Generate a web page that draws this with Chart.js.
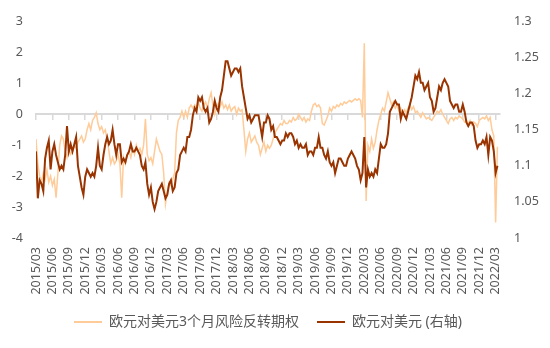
<!DOCTYPE html>
<html>
<head>
<meta charset="utf-8">
<script src="https://cdn.jsdelivr.net/npm/chart.js@4"></script>
<style>
  body { margin: 0; background: #fff; }
  #wrap { width: 550px; height: 348px; }
</style>
</head>
<body>
<div id="wrap"><canvas id="chart" width="550" height="348"></canvas></div>
<script>
// quarterly tick labels on the date axis
const tickLabels = [
	"2015/03", "2015/06", "2015/09", "2015/12", "2016/03", "2016/06", "2016/09", "2016/12",
	"2017/03", "2017/06", "2017/09", "2017/12", "2018/03", "2018/06", "2018/09", "2018/12",
	"2019/03", "2019/06", "2019/09", "2019/12", "2020/03", "2020/06", "2020/09", "2020/12",
	"2021/03", "2021/06", "2021/09", "2021/12", "2022/03",
];

// three readings per month, starting 2015/03
const stepsPerMonth = 3;

// EUR/USD 3M 25D risk reversal (left axis)
const rr = [
	-0.8, -1.6, -2.0, -2.2, -1.9, -2.1, -1.8, -2.2, -2.0, -2.3, -2.1, -2.7, -1.9, -1.0, -0.7, -0.8, -1.2, -1.4, -1.1, -1.3, -1.2, -1.0, -1.1, -0.9, -0.8, -0.7, -0.9, -0.8, -0.5, -0.3,
	-0.5, -0.2, -0.1, 0.05, -0.3, -0.5, -0.4, -0.6, -0.5, -0.8, -1.2, -1.6, -1.4, -1.6, -1.5, -1.3, -1.6, -2.7, -1.4, -1.6, -1.3, -1.2, -1.4, -1.1, -1.3, -1.0, -1.2, -1.1, -1.3, -1.0, -0.15, -1.3, -1.5, -1.4, -1.6, -1.2,
	-0.8, -1.0, -1.2, -1.3, -1.9, -2.9, -2.5, -2.2, -2.3, -2.1, -1.9, -0.6, -0.2, -0.1, 0.1, -0.1, 0.1, -0.1, 0.2, 0.3, 0.2, 0.3, 0.15, 0.4, 0.2, 0.1, 0.3, 0.4, 0.2, 0.5, 0.7, 0.3, 0.0, 0.2, 0.35, 0.25,
	0.4, 0.2, 0.3, 0.15, 0.3, 0.1, 0.2, 0.25, 0.0, 0.2, 0.1, 0.15, -0.5, -1.2, -0.8, -0.6, -0.9, -0.8, -0.7, -0.9, -1.0, -1.3, -1.1, -0.9, -1.2, -1.0, -1.1, -1.0, -0.8, -0.6, -0.5, -0.4, -0.3, -0.35, -0.2, -0.3,
	-0.3, -0.2, -0.25, -0.1, -0.2, -0.15, 0.0, -0.1, -0.2, -0.1, -0.25, -0.15, -0.2, 0.1, 0.3, 0.35, 0.25, 0.3, 0.2, -0.3, -0.35, -0.2, -0.05, 0.2, 0.1, 0.25, 0.2, 0.3, 0.25, 0.35, 0.3, 0.4, 0.35, 0.4, 0.45, 0.4,
	0.45, 0.5, 0.45, 0.5, 0.45, -0.1, 2.3, -2.8, -1.0, -1.2, -0.8, -1.1, -0.9, -0.5, -0.2, 0.0, 0.2, 0.1, 0.4, 0.7, 0.5, 0.3, 0.4, 0.2, 0.3, 0.1, 0.2, 0.0, 0.15, 0.05, 0.2, 0.3, 0.15, 0.25, 0.05, 0.1,
	0.0, -0.1, 0.05, -0.05, -0.15, -0.1, -0.15, -0.2, -0.1, 0.0, 0.1, 0.05, 0.15, 0.0, -0.1, -0.2, -0.3, -0.15, -0.1, -0.2, -0.1, -0.15, -0.05, -0.1, -0.15, -0.25, -0.2, -0.3, -0.2, -0.35, -0.25, -0.3, -0.4, -0.2, -0.15, -0.1,
	-0.15, -0.05, -0.2, -0.1, -0.5, -0.7, -3.5, -1.05,
];

// EUR/USD spot (right axis)
const eurusd = [
	1.12, 1.055, 1.08, 1.075, 1.065, 1.11, 1.125, 1.135, 1.095, 1.12, 1.13, 1.115, 1.105, 1.095, 1.10, 1.095, 1.115, 1.155, 1.12, 1.13, 1.12, 1.13, 1.14, 1.10, 1.085, 1.07, 1.06, 1.085, 1.095, 1.09,
	1.085, 1.09, 1.085, 1.10, 1.125, 1.10, 1.095, 1.115, 1.13, 1.14, 1.13, 1.135, 1.15, 1.13, 1.115, 1.13, 1.13, 1.105, 1.11, 1.105, 1.115, 1.12, 1.13, 1.12, 1.12, 1.125, 1.12, 1.115, 1.10, 1.095, 1.105, 1.075, 1.06, 1.07, 1.05, 1.04,
	1.05, 1.065, 1.07, 1.075, 1.065, 1.055, 1.06, 1.075, 1.08, 1.065, 1.07, 1.09, 1.095, 1.115, 1.12, 1.125, 1.12, 1.14, 1.14, 1.15, 1.17, 1.18, 1.175, 1.195, 1.19, 1.195, 1.18, 1.175, 1.18, 1.16, 1.165, 1.175, 1.19, 1.18, 1.175, 1.195,
	1.205, 1.225, 1.245, 1.245, 1.235, 1.225, 1.23, 1.235, 1.235, 1.23, 1.235, 1.21, 1.195, 1.18, 1.165, 1.17, 1.16, 1.165, 1.17, 1.17, 1.17, 1.155, 1.14, 1.16, 1.16, 1.17, 1.165, 1.15, 1.155, 1.14, 1.14, 1.135, 1.13, 1.135, 1.135, 1.145,
	1.14, 1.145, 1.145, 1.14, 1.13, 1.135, 1.125, 1.13, 1.125, 1.125, 1.13, 1.115, 1.12, 1.12, 1.115, 1.125, 1.125, 1.14, 1.125, 1.125, 1.115, 1.11, 1.12, 1.105, 1.10, 1.105, 1.09, 1.10, 1.11, 1.11, 1.105, 1.10, 1.10, 1.11, 1.115, 1.12,
	1.115, 1.11, 1.10, 1.095, 1.08, 1.09, 1.14, 1.07, 1.095, 1.085, 1.09, 1.085, 1.095, 1.09, 1.11, 1.13, 1.125, 1.125, 1.13, 1.145, 1.175, 1.18, 1.185, 1.19, 1.185, 1.185, 1.165, 1.175, 1.17, 1.165, 1.175, 1.185, 1.195, 1.21, 1.225, 1.22,
	1.23, 1.215, 1.215, 1.205, 1.21, 1.215, 1.195, 1.19, 1.175, 1.18, 1.195, 1.21, 1.205, 1.215, 1.22, 1.215, 1.21, 1.19, 1.185, 1.18, 1.185, 1.185, 1.175, 1.175, 1.185, 1.175, 1.16, 1.155, 1.16, 1.16, 1.155, 1.135, 1.125, 1.13, 1.13, 1.135,
	1.13, 1.14, 1.115, 1.14, 1.135, 1.12, 1.09, 1.10,
];

const toPoints = (arr) => arr.map((v, i) => ({ x: i / stepsPerMonth, y: v }));
const xMax = 84.8;
const grey = "#595959";
const fontFamily = '"Noto Sans", "Noto Sans CJK SC", sans-serif';

const ctx = document.getElementById("chart").getContext("2d");

const config = {
	type: "line",
	data: {
		datasets: [
			{
				label: "欧元对美元3个月风险反转期权",
				data: toPoints(rr),
				yAxisID: "y",
				borderColor: "#FFCB98",
				backgroundColor: "#FFCB98",
				borderWidth: 1.5,
				pointRadius: 0,
				tension: 0,
				order: 2,
			},
			{
				label: "欧元对美元 (右轴)",
				data: toPoints(eurusd),
				yAxisID: "y2",
				borderColor: "#993300",
				backgroundColor: "#993300",
				borderWidth: 2,
				pointRadius: 0,
				tension: 0,
				order: 1,
			},
		],
	},
	options: {
		responsive: false,
		animation: false,
		layout: { padding: { top: 17, bottom: 9, left: 0, right: 0 } },
		scales: {
			x: {
				type: "linear",
				position: "bottom",
				min: 0,
				max: xMax,
				grid: { display: false, drawTicks: false },
				border: { display: false },
				ticks: {
					stepSize: 3,
					includeBounds: false,
					autoSkip: false,
					minRotation: 90,
					maxRotation: 90,
					padding: 9,
					color: grey,
					font: { family: fontFamily, size: 12.5 },
					callback: (v) => tickLabels[Math.round(v / 3)],
				},
				afterFit: (scale) => { scale.height = 59; },
			},
			// axis line drawn through zero of the left axis, with quarter tick marks
			x2: {
				type: "linear",
				axis: "x",
				position: { y: 0 },
				min: 0,
				max: xMax,
				grid: { drawOnChartArea: false, drawTicks: true, tickLength: 5, color: "#d9d9d9", lineWidth: 1.5 },
				border: { display: true, color: "#d9d9d9", width: 2 },
				ticks: { stepSize: 3, includeBounds: false, autoSkip: false, display: false },
			},
			y: {
				position: "left",
				min: -4,
				max: 3,
				grid: { display: false, drawTicks: false },
				border: { display: false },
				ticks: {
					stepSize: 1,
					padding: 13,
					color: grey,
					font: { family: fontFamily, size: 12.5 },
				},
				afterFit: (scale) => { scale.width = 36; },
			},
			y2: {
				position: "right",
				min: 1,
				max: 1.3,
				grid: { display: false, drawTicks: false },
				border: { display: false },
				ticks: {
					stepSize: 0.05,
					padding: 14,
					color: grey,
					font: { family: fontFamily, size: 12.5 },
					callback: (v) => String(Number(v.toFixed(2))),
				},
				afterFit: (scale) => { scale.width = 50; },
			},
		},
		plugins: {
			legend: {
				position: "bottom",
				fullSize: false,
				labels: {
					boxWidth: 28,
					boxHeight: 2,
					padding: 18,
					color: grey,
					font: { family: fontFamily, size: 14 },
					sort: (a, b) => a.datasetIndex - b.datasetIndex,
					generateLabels: (chart) =>
						Chart.defaults.plugins.legend.labels.generateLabels(chart).map((item) => ({
							...item,
							fillStyle: item.strokeStyle,
							lineWidth: 0,
						})),
				},
			},
			tooltip: { enabled: false },
		},
	},
};

const myChart = new Chart(ctx, config);
</script>
</body>
</html>
